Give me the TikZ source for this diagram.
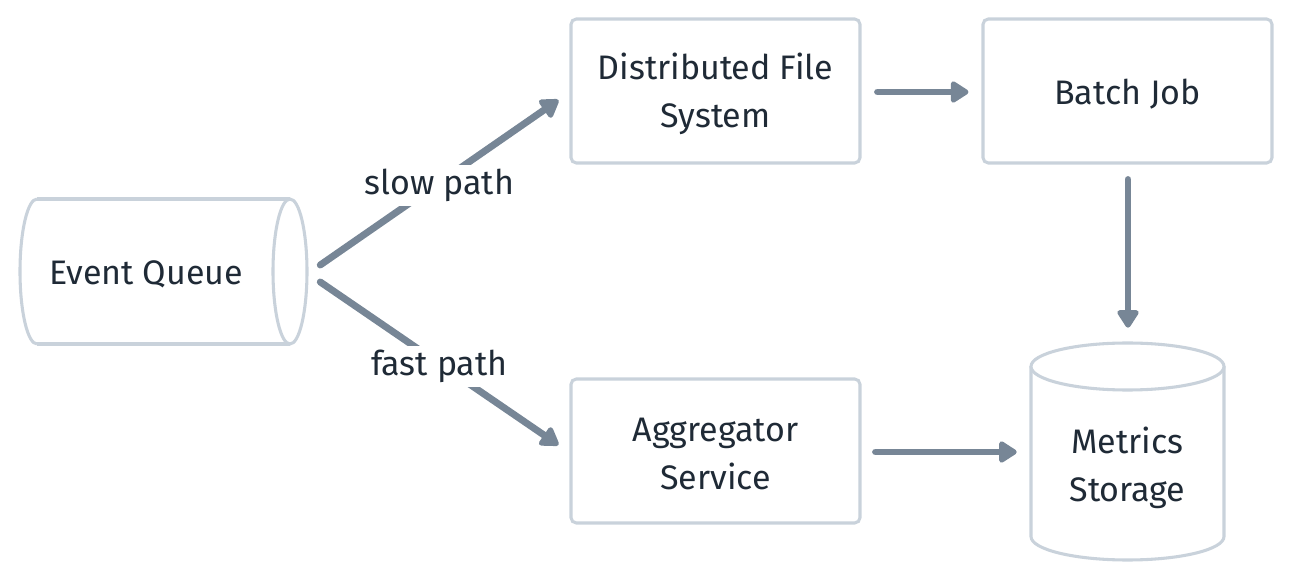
\documentclass[tikz,border=0pt]{standalone}
\usepackage{fontspec}
\setmainfont{Fira Sans}
\usetikzlibrary{arrows.meta,calc}
\definecolor{edgec}{HTML}{778696}
\definecolor{boxc}{HTML}{C9D2DB}
\definecolor{txtc}{HTML}{1F2A36}
\begin{document}
\begin{tikzpicture}[x=0.75pt,y=-0.75pt,
  txt/.style={text=txtc, font=\fontsize{25.5}{36}\selectfont, align=center, inner sep=0pt, yshift=-2.3pt},
  box/.style={draw=boxc, line width=2.3pt, rounded corners=4pt, fill=white,
    minimum width=216.75pt, minimum height=108pt, inner sep=0pt},
  shell/.style={draw=none, inner sep=0pt},
  cyl/.style={draw=boxc, line width=2.3pt, fill=white},
  flow/.style={draw=edgec, line width=5.2pt, line cap=round,
    -{Triangle[length=15pt,width=18pt,round]}},
  lab/.style={txt, fill=white, inner xsep=4pt, inner ysep=3pt}]
\useasboundingbox (0,0) rectangle (1292,580);

% boxes
\node[box, label={[txt]center:{Distributed File\\System}}] (dfs) at (715.5,91) {};
\node[box, label={[txt]center:{Batch Job}}] (batch) at (1127.5,91) {};
\node[box, label={[txt]center:{Aggregator\\Service}}] (agg) at (715.5,451) {};

% Event Queue cylinder (horizontal)
\node[shell, minimum width=215.25pt, minimum height=108.75pt] (eq) at (163.5,271.5) {};
\path[cyl, draw=none] (37,199) -- (290,199) -- (290,344) -- (37,344)
  arc[start angle=-270, end angle=-90, x radius=17, y radius=72.5] -- cycle;
\draw[draw=boxc, line width=2.3pt] (37,199) -- (290,199) (37,344) -- (290,344);
\draw[draw=boxc, line width=2.3pt] (37,199) arc[start angle=-90, end angle=-270, x radius=17, y radius=72.5];
\draw[cyl] (290,271.5) ellipse[x radius=17, y radius=72.5];
\node[txt] (eqt) at (146,271.5) {Event Queue};

% Metrics Storage cylinder (vertical)
\node[shell, minimum width=144.75pt, minimum height=162.75pt] (ms) at (1127.5,451.5) {};
\draw[cyl] (1031,366.5) -- (1031,536.5) arc[start angle=180, end angle=0, x radius=96.5, y radius=23.5] -- (1224,366.5);
\draw[cyl] (1127.5,366.5) ellipse[x radius=96.5, y radius=23.5];
\node[txt] (mst) at (1127.5,464.5) {Metrics\\Storage};

% connectors
\draw[flow] ([shift={(13,-6.5)}]eq.east) -- node[lab] {slow path} ([shift={(-11,9)}]dfs.west);
\draw[flow] ([shift={(13,10.5)}]eq.east) -- node[lab] {fast path} ([shift={(-11,-6)}]agg.west);
\draw[flow] ([shift={(16,1)}]dfs.east) -- ([shift={(-13,1)}]batch.west);
\draw[flow] ([shift={(0.5,15)}]batch.south) -- ([shift={(0.5,-15)}]ms.north);
\draw[flow] ([shift={(14,1)}]agg.east) -- ([shift={(-14,1)}]agg.east -| ms.west);
\end{tikzpicture}
\end{document}
